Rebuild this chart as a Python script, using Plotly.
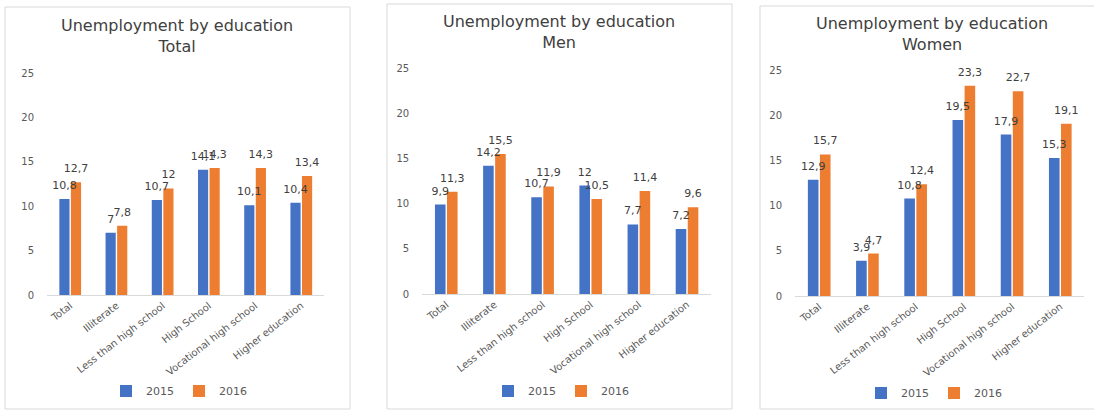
import plotly.graph_objects as go

categories = ["Total", "Illiterate", "Less than high school", "High School",
              "Vocational high school", "Higher education"]
years = ["2015", "2016"]
total_2015 = [10.8, 7, 10.7, 14.1, 10.1, 10.4]
total_2016 = [12.7, 7.8, 12, 14.3, 14.3, 13.4]
men_2015 = [9.9, 14.2, 10.7, 12, 7.7, 7.2]
men_2016 = [11.3, 15.5, 11.9, 10.5, 11.4, 9.6]
women_2015 = [12.9, 3.9, 10.8, 19.5, 17.9, 15.3]
women_2016 = [15.7, 4.7, 12.4, 23.3, 22.7, 19.1]
panel_names = ["Total", "Men", "Women"]

W, H = 1094, 411
COLORS = ["#4472C4", "#ED7D31"]
FONT = "DejaVu Sans"


def fx(p):
    return p / W


def fy(p):
    return 1 - p / H


def lab(v):
    return f"{v:g}".replace(".", ",")


panels = [
    dict(series=[total_2015, total_2016], xd=(47.1, 324.4), yd=(295, 73),
         box=(5, 7, 350, 409), title=(177, 36), legend=(179, 391)),
    dict(series=[men_2015, men_2016], xd=(422.2, 711.1), yd=(294, 68),
         box=(387, 4, 732, 409), title=(559, 32.5), legend=(561, 391)),
    dict(series=[women_2015, women_2016], xd=(795.1, 1084.4), yd=(296, 70.5),
         box=(760, 6, 1100, 409), title=(932, 34.5), legend=(934, 393)),
]

fig = go.Figure()
layout = dict(
    width=W, height=H, autosize=False,
    margin=dict(l=0, r=0, t=0, b=0, pad=0),
    template="none",
    paper_bgcolor="white", plot_bgcolor="white",
    barmode="group", bargap=0.5, bargroupgap=0.12,
    scattermode="group", scattergap=0.5,
    font=dict(family=FONT, color="#595959"),
    showlegend=True,
)
shapes = []
annotations = []

for i, p in enumerate(panels):
    n = "" if i == 0 else str(i + 1)
    lg = "legend" + n
    for j, (vals, yr) in enumerate(zip(p["series"], years)):
        fig.add_trace(go.Bar(
            x=categories, y=vals, name=yr,
            marker=dict(color=COLORS[j], line=dict(width=0)),
            offsetgroup=str(j), alignmentgroup="a" + n,
            xaxis="x" + n, yaxis="y" + n, legend=lg,
            hoverinfo="x+y",
        ))
    for j, (vals, yr) in enumerate(zip(p["series"], years)):
        fig.add_trace(go.Scatter(
            x=categories, y=vals, name=yr, mode="markers+text",
            marker=dict(size=10, opacity=0, color=COLORS[j]),
            text=[lab(v) for v in vals], textposition="top center",
            textfont=dict(size=11, color="#404040", family=FONT),
            offsetgroup=str(j), alignmentgroup="a" + n,
            cliponaxis=False, showlegend=False,
            xaxis="x" + n, yaxis="y" + n, legend=lg,
            hoverinfo="skip",
        ))
    layout["xaxis" + n] = dict(
        domain=[fx(p["xd"][0]), fx(p["xd"][1])], anchor="y" + n,
        showline=True, linecolor="#d9d9d9", linewidth=1,
        showgrid=False, zeroline=False, ticks="", tickangle=-38,
        tickfont=dict(size=10, color="#595959", family=FONT),
        automargin=False,
    )
    layout["yaxis" + n] = dict(
        domain=[fy(p["yd"][0]), fy(p["yd"][1])], anchor="x" + n,
        range=[0, 25], dtick=5, tick0=0,
        showline=False, showgrid=False, zeroline=False, ticks="",
        ticklabelstandoff=12,
        tickfont=dict(size=10, color="#595959", family=FONT),
        automargin=False,
    )
    layout[lg] = dict(
        orientation="h", x=fx(p["legend"][0]), xanchor="center",
        y=fy(p["legend"][1]), yanchor="middle",
        font=dict(size=11, color="#595959", family=FONT),
        bgcolor="rgba(0,0,0,0)", itemwidth=30, tracegroupgap=0,
    )
    x0, y0, x1, y1 = p["box"]
    shapes.append(dict(type="rect", xref="paper", yref="paper",
                       x0=fx(x0), x1=fx(x1), y0=fy(y1), y1=fy(y0),
                       line=dict(color="#d9d9d9", width=1),
                       fillcolor="rgba(0,0,0,0)", layer="below"))
    annotations.append(dict(
        xref="paper", yref="paper", x=fx(p["title"][0]), y=fy(p["title"][1]),
        xanchor="center", yanchor="middle", showarrow=False,
        text="Unemployment by education<br>" + panel_names[i],
        font=dict(size=16, color="#404040", family=FONT),
    ))

layout["shapes"] = shapes
layout["annotations"] = annotations
fig.update_layout(**layout)
fig.write_html("out.html")
